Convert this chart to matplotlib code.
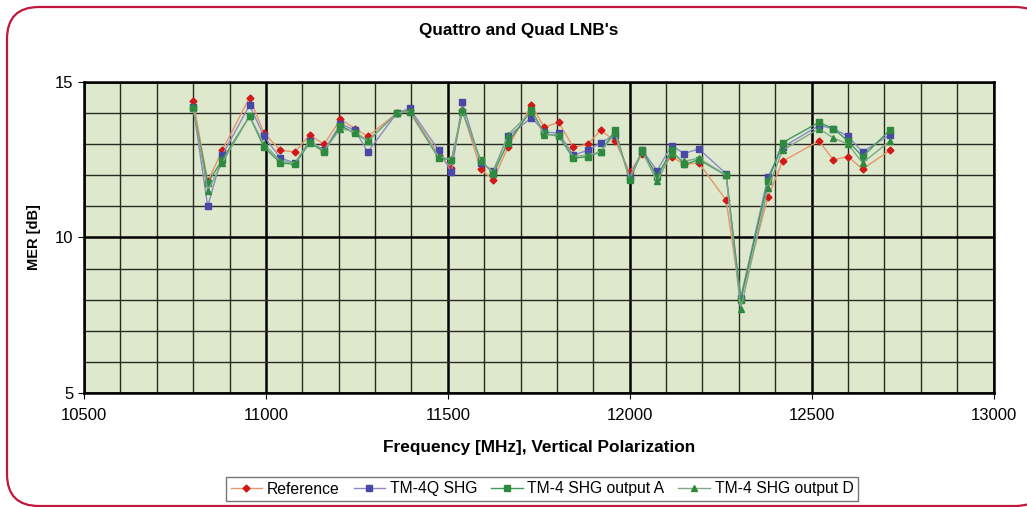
import matplotlib.pyplot as plt
from matplotlib.patches import FancyBboxPatch
from matplotlib.ticker import MultipleLocator

plt.rcParams['font.family'] = ['Liberation Sans', 'DejaVu Sans']

freq = [10800, 10840, 10880, 10955, 10995, 11040, 11080, 11120, 11160, 11205,
        11245, 11280, 11360, 11395, 11475, 11510, 11540, 11590, 11625, 11665,
        11730, 11765, 11805, 11845, 11885, 11920, 11960, 12000, 12035, 12075,
        12115, 12150, 12190, 12265, 12305, 12380, 12420, 12520, 12560, 12600,
        12640, 12715]
reference = [14.4, 11.8, 12.8, 14.5, 13.35, 12.8, 12.75, 13.3, 13.0, 13.8,
             13.5, 13.25, 14.0, 14.1, 12.65, 12.25, 14.1, 12.2, 11.85, 12.9,
             14.25, 13.55, 13.7, 12.9, 13.0, 13.45, 13.1, 12.1, 12.7, 12.05,
             12.6, 12.35, 12.4, 11.2, 8.0, 11.3, 12.45, 13.1, 12.5, 12.6,
             12.2, 12.8]
tm4q = [14.2, 11.0, 12.65, 14.25, 13.25, 12.55, 12.4, 13.1, 12.8, 13.65,
        13.45, 12.75, 14.0, 14.15, 12.8, 12.1, 14.35, 12.4, 12.15, 13.25,
        13.85, 13.4, 13.35, 12.65, 12.8, 13.05, 13.3, 11.95, 12.8, 12.15,
        12.95, 12.7, 12.85, 12.05, 8.05, 11.95, 12.9, 13.6, 13.5, 13.25,
        12.75, 13.3]
out_a = [14.15, 11.75, 12.5, 13.9, 12.9, 12.4, 12.35, 13.05, 12.75, 13.6,
         13.35, 13.1, 14.0, 14.05, 12.55, 12.5, 14.05, 12.5, 12.05, 13.05,
         14.1, 13.35, 13.25, 12.55, 12.6, 12.75, 13.45, 11.85, 12.8, 11.95,
         12.8, 12.35, 12.5, 12.0, 8.0, 11.8, 13.05, 13.7, 13.5, 13.1,
         12.6, 13.45]
out_d = [14.2, 11.5, 12.4, 13.9, 13.0, 12.45, 12.4, 13.1, 12.8, 13.5,
         13.4, 13.1, 14.0, 14.05, 12.6, 12.5, 14.1, 12.45, 12.1, 13.3,
         14.05, 13.3, 13.3, 12.6, 12.65, 12.75, 13.35, 11.9, 12.75, 11.8,
         12.7, 12.45, 12.55, 12.0, 7.7, 11.6, 12.8, 13.5, 13.2, 13.0,
         12.4, 13.1]

fig = plt.figure(figsize=(10.27, 5.07), dpi=100)

# rounded red frame behind everything
bg = fig.add_axes([0, 0, 1, 1], zorder=-1)
bg.set_xlim(0, 1027)
bg.set_ylim(0, 507)
bg.axis('off')
bg.add_patch(FancyBboxPatch((7, 1), 1040, 499, boxstyle="round,pad=0,rounding_size=32",
                            fc='white', ec='#c0183a', lw=1.6))

ax = fig.add_axes([0.0818, 0.2249, 0.8856, 0.6134])
ax.set_facecolor('#dde8cc')

ax.plot(freq, reference, color='#e8956a', lw=1, marker='D', ms=3.5,
        mfc='#d01818', mec='#d01818', label='Reference', zorder=3)
ax.plot(freq, tm4q, color='#8a8ac8', lw=1, marker='s', ms=4,
        mfc='#4848a8', mec='#4848a8', label='TM-4Q SHG', zorder=3)
ax.plot(freq, out_a, color='#3e9a5a', lw=1, marker='s', ms=4,
        mfc='#2e8a3e', mec='#2e8a3e', label='TM-4 SHG output A', zorder=4)
ax.plot(freq, out_d, color='#80a888', lw=1, marker='^', ms=4,
        mfc='#2e8a3e', mec='#2e8a3e', label='TM-4 SHG output D', zorder=4)

ax.set_xlim(10500, 13000)
ax.set_ylim(5, 15)
ax.xaxis.set_major_locator(MultipleLocator(500))
ax.xaxis.set_minor_locator(MultipleLocator(100))
ax.yaxis.set_major_locator(MultipleLocator(5))
ax.yaxis.set_minor_locator(MultipleLocator(1))
ax.grid(which='minor', color='#2a2a22', lw=1.0, zorder=1)
ax.grid(which='major', color='black', lw=1.8, zorder=1)
ax.set_axisbelow(True)
ax.tick_params(which='minor', length=0)
ax.tick_params(which='major', length=4, labelsize=12, direction='out')
ax.tick_params(axis='x', pad=7)
for s in ax.spines.values():
    s.set_linewidth(1.8)

ax.set_xlabel('Frequency [MHz], Vertical Polarization', fontsize=12.4,
              fontweight='bold', labelpad=12)
ax.set_ylabel('MER [dB]', fontsize=10.5, fontweight='bold', labelpad=10)
fig.text(519 / 1027, 1 - 31 / 507, "Quattro and Quad LNB's", ha='center', va='center',
         fontsize=12.3, fontweight='bold')

leg = fig.legend(loc='center', bbox_to_anchor=(542 / 1027, 1 - 489 / 507), ncol=4,
                 fontsize=11.3, frameon=True, fancybox=False, edgecolor='#555555',
                 handlelength=2, handletextpad=0.3, columnspacing=0.9,
                 borderpad=0.3)
leg.get_frame().set_linewidth(1)

plt.savefig('out.png', dpi=100)
